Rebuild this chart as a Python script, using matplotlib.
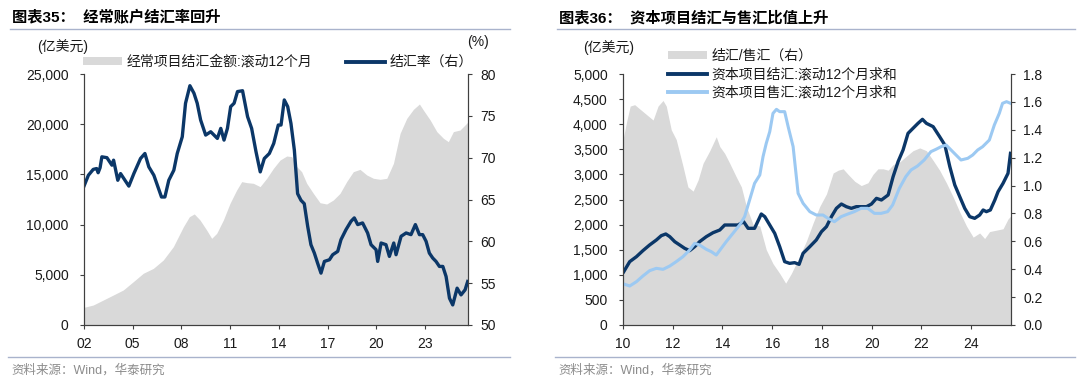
import matplotlib
matplotlib.use("Agg")
import matplotlib.pyplot as plt
from matplotlib.lines import Line2D
from matplotlib.patches import Patch
from matplotlib.ticker import FuncFormatter, MultipleLocator
import numpy as np

plt.rcParams['font.family'] = ['Liberation Sans', 'Noto Sans CJK SC', 'DejaVu Sans']

# ---------------- Data: chart 35 ----------------
ca_amt_x = [2002.0, 2002.57, 2003.19, 2003.81, 2004.42, 2005.04, 2005.65, 2006.27, 2006.88,
            2007.50, 2008.12, 2008.49, 2008.79, 2009.14, 2009.55, 2009.86, 2010.17, 2010.58,
            2010.99, 2011.40, 2011.71, 2012.02, 2012.43, 2012.84, 2013.25, 2013.66, 2014.07,
            2014.48, 2014.79, 2015.10, 2015.40, 2015.71, 2016.12, 2016.53, 2016.94, 2017.35,
            2017.76, 2018.17, 2018.58, 2018.99, 2019.41, 2019.82, 2020.23, 2020.64, 2021.05,
            2021.46, 2021.87, 2022.28, 2022.65, 2022.89, 2023.31, 2023.72, 2024.13, 2024.43,
            2024.74, 2025.15, 2025.56, 2025.64]
ca_amt = [1760, 1990, 2490, 2990, 3490, 4320, 5150, 5640, 6470,
          7800, 9790, 10790, 11060, 10460, 9460, 8630, 9130, 10460,
          12120, 13450, 14280, 14180, 14110, 13780, 14610, 15600, 16430,
          16830, 16770, 15770, 15270, 14110, 13110, 12180, 12050, 12450,
          13110, 14280, 15270, 15500, 14940, 14610, 14510, 14610, 16100,
          19090, 20580, 21480, 22010, 21410, 20420, 19260, 18590, 18260,
          19260, 19420, 20090, 20250]

rate_x = [2002.00, 2002.27, 2002.57, 2002.78, 2002.87, 2002.99, 2003.10, 2003.41, 2003.72,
          2003.82, 2003.93, 2004.08, 2004.25, 2004.76, 2005.07, 2005.48, 2005.75, 2005.99,
          2006.30, 2006.77, 2006.98, 2007.22, 2007.53, 2007.74, 2008.05, 2008.25, 2008.52,
          2008.77, 2008.97, 2009.18, 2009.49, 2009.80, 2010.21, 2010.42, 2010.62, 2010.83,
          2011.03, 2011.24, 2011.45, 2011.76, 2012.07, 2012.32, 2012.59, 2012.85, 2013.10,
          2013.41, 2013.68, 2013.96, 2014.13, 2014.33, 2014.54, 2014.74, 2014.95, 2015.15,
          2015.36, 2015.56, 2015.77, 2015.97, 2016.18, 2016.38, 2016.59, 2016.80, 2017.11,
          2017.31, 2017.62, 2017.82, 2018.13, 2018.44, 2018.64, 2018.85, 2019.15, 2019.46,
          2019.67, 2019.98, 2020.08, 2020.29, 2020.59, 2020.80, 2021.07, 2021.21, 2021.52,
          2021.83, 2022.13, 2022.40, 2022.65, 2022.85, 2023.06, 2023.26, 2023.47, 2023.67,
          2023.88, 2024.09, 2024.29, 2024.50, 2024.70, 2024.97, 2025.21, 2025.46, 2025.62]
rate = [66.6, 67.9, 68.6, 68.7, 68.2, 68.8, 70.1, 70.0, 69.1,
        69.7, 68.7, 67.3, 68.1, 66.6, 68.1, 69.9, 70.5, 68.9,
        67.9, 65.3, 65.3, 67.3, 68.5, 70.5, 72.5, 76.5, 78.6,
        77.7, 76.5, 74.5, 72.7, 73.1, 72.3, 73.5, 72.1, 73.5,
        76.1, 76.5, 77.9, 78.0, 74.9, 73.5, 70.7, 68.3, 69.9,
        70.5, 71.7, 73.9, 73.9, 76.9, 76.1, 74.1, 70.9, 65.7,
        64.9, 64.5, 61.8, 59.6, 58.6, 57.4, 56.2, 57.6, 57.8,
        58.4, 58.8, 60.2, 61.4, 62.4, 62.8, 62.0, 62.2, 61.0,
        59.6, 59.0, 57.6, 59.8, 59.6, 58.2, 59.8, 58.4, 60.6,
        61.0, 60.8, 62.0, 60.8, 60.8, 60.0, 58.6, 58.0, 57.6,
        57.0, 57.0, 55.8, 53.2, 52.4, 54.4, 53.6, 54.2, 55.2]

# ---------------- Data: chart 36 ----------------
ratio_x = [2010.00, 2010.16, 2010.29, 2010.47, 2010.67, 2010.94, 2011.21, 2011.41, 2011.61,
           2011.74, 2011.94, 2012.14, 2012.41, 2012.61, 2012.82, 2013.02, 2013.22, 2013.49,
           2013.75, 2013.89, 2014.09, 2014.29, 2014.56, 2014.76, 2014.96, 2015.23, 2015.50,
           2015.76, 2016.03, 2016.30, 2016.54, 2016.77, 2017.04, 2017.37, 2017.64, 2017.91,
           2018.18, 2018.45, 2018.65, 2018.85, 2019.05, 2019.32, 2019.58, 2019.85, 2020.05,
           2020.25, 2020.46, 2020.66, 2020.86, 2021.13, 2021.39, 2021.66, 2021.93, 2022.20,
           2022.47, 2022.73, 2023.00, 2023.27, 2023.54, 2023.81, 2024.08, 2024.34, 2024.54,
           2024.74, 2025.01, 2025.28, 2025.48, 2025.58]
ratio = [1.33, 1.47, 1.57, 1.58, 1.55, 1.51, 1.47, 1.57, 1.61,
         1.57, 1.40, 1.33, 1.14, 0.99, 0.96, 1.04, 1.16, 1.25,
         1.35, 1.28, 1.23, 1.16, 1.06, 0.99, 0.85, 0.72, 0.71,
         0.54, 0.44, 0.37, 0.30, 0.37, 0.47, 0.60, 0.73, 0.85,
         0.94, 1.09, 1.11, 1.12, 1.08, 1.03, 1.00, 1.02, 1.08,
         1.12, 1.12, 1.11, 1.15, 1.17, 1.21, 1.25, 1.27, 1.25,
         1.18, 1.11, 1.02, 0.92, 0.81, 0.71, 0.63, 0.66, 0.62,
         0.67, 0.68, 0.69, 0.76, 0.78]

settle_x = [2010.03, 2010.27, 2010.54, 2010.80, 2011.07, 2011.34, 2011.54, 2011.72, 2011.88,
            2012.08, 2012.28, 2012.48, 2012.68, 2012.88, 2013.08, 2013.35, 2013.62, 2013.89,
            2014.09, 2014.36, 2014.62, 2014.85, 2015.03, 2015.29, 2015.56, 2015.70, 2015.90,
            2016.10, 2016.30, 2016.50, 2016.70, 2016.90, 2017.08, 2017.24, 2017.51, 2017.77,
            2017.98, 2018.18, 2018.38, 2018.58, 2018.78, 2018.98, 2019.18, 2019.38, 2019.58,
            2019.79, 2019.99, 2020.19, 2020.39, 2020.66, 2020.86, 2021.06, 2021.26, 2021.46,
            2021.66, 2021.86, 2022.04, 2022.20, 2022.47, 2022.73, 2022.94, 2023.14, 2023.34,
            2023.54, 2023.74, 2023.94, 2024.14, 2024.34, 2024.48, 2024.61, 2024.77, 2024.95,
            2025.08, 2025.28, 2025.48, 2025.58]
settle = [1062, 1262, 1361, 1481, 1594, 1693, 1780, 1813, 1760,
          1660, 1594, 1527, 1481, 1560, 1660, 1760, 1839, 1892,
          1992, 1992, 1992, 2058, 1926, 1926, 2211, 2158, 1992,
          1826, 1560, 1262, 1228, 1242, 1208, 1428, 1560, 1693,
          1859, 1959, 2158, 2324, 2410, 2357, 2324, 2357, 2357,
          2357, 2410, 2523, 2490, 2590, 2955, 3254, 3486, 3818,
          3918, 4017, 4097, 4017, 3951, 3752, 3586, 3154, 2789,
          2556, 2324, 2158, 2125, 2191, 2291, 2258, 2291, 2490,
          2656, 2822, 3021, 3420]

sale_x = [2010.03, 2010.27, 2010.54, 2010.80, 2011.07, 2011.34, 2011.61, 2011.88, 2012.14,
          2012.41, 2012.68, 2012.88, 2013.08, 2013.35, 2013.55, 2013.75, 2013.95, 2014.15,
          2014.42, 2014.69, 2014.89, 2015.09, 2015.29, 2015.50, 2015.63, 2015.76, 2015.90,
          2016.03, 2016.17, 2016.30, 2016.50, 2016.64, 2016.84, 2017.04, 2017.24, 2017.51,
          2017.77, 2018.04, 2018.24, 2018.50, 2018.77, 2019.04, 2019.30, 2019.57, 2019.84,
          2020.11, 2020.38, 2020.64, 2020.84, 2021.11, 2021.37, 2021.58, 2021.84, 2022.11,
          2022.38, 2022.58, 2022.79, 2022.99, 2023.19, 2023.39, 2023.59, 2023.86, 2024.06,
          2024.26, 2024.46, 2024.73, 2024.93, 2025.13, 2025.26, 2025.42, 2025.58]
sale = [817, 777, 863, 976, 1082, 1129, 1109, 1175, 1262,
        1361, 1494, 1627, 1594, 1507, 1461, 1394, 1527, 1660,
        1826, 1992, 2158, 2490, 2822, 2988, 3353, 3619, 3851,
        4216, 4296, 4250, 4250, 3951, 3553, 2623, 2424, 2258,
        2191, 2191, 2125, 2058, 2158, 2211, 2258, 2324, 2324,
        2224, 2224, 2258, 2390, 2722, 2955, 3088, 3167, 3287,
        3453, 3499, 3552, 3586, 3486, 3386, 3287, 3320, 3386,
        3486, 3552, 3685, 3984, 4216, 4416, 4449, 4416]

left_ticks_x = [2002, 2005, 2008, 2011, 2014, 2017, 2020, 2023]
left_tick_labels = ["02", "05", "08", "11", "14", "17", "20", "23"]
right_ticks_x = [2010, 2012, 2014, 2016, 2018, 2020, 2022, 2024]
right_tick_labels = ["10", "12", "14", "16", "18", "20", "22", "24"]

# ---------------- Styling ----------------
W, H = 1080, 387
GRAY = "#d9d9d9"
NAVY = "#0b3768"
LIGHT = "#9cc9f2"
SPINE = "#404040"
TXT = "#1a1a1a"
RULE = "#a9b3cc"
FS = 10

fig = plt.figure(figsize=(W / 100, H / 100), dpi=100)


def fx(px):
    return px / W


def fy(py):
    return 1 - py / H


def style_axes(ax, ax2):
    for a in (ax, ax2):
        a.spines['top'].set_visible(False)
        for s in ('left', 'right', 'bottom'):
            a.spines[s].set_color(SPINE)
            a.spines[s].set_linewidth(0.8)
    ax.tick_params(axis='y', direction='out', length=3, width=0.8, color=SPINE,
                   labelsize=FS, labelcolor=TXT, pad=8)
    ax.tick_params(axis='x', direction='out', length=3, width=0.8, color=SPINE,
                   labelsize=FS, labelcolor=TXT, pad=6)
    ax2.tick_params(axis='y', direction='out', length=3, width=0.8, color=SPINE,
                    labelsize=FS, labelcolor=TXT, pad=6)


def panel_frame(x0, x1, title):
    fig.text(fx(x0 + 2), fy(18), title, fontsize=11, fontweight='bold', color='black',
             va='center', ha='left')
    fig.add_artist(Line2D([fx(x0), fx(x1)], [fy(29), fy(29)], color=RULE, lw=1.0))
    fig.add_artist(Line2D([fx(x0 - 2), fx(x1)], [fy(357), fy(357)], color=RULE, lw=1.0))
    fig.text(fx(x0 + 1), fy(370), "资料来源：Wind，华泰研究", fontsize=9, color="#8c8c8c",
             va='center', ha='left')


# ---------------- Chart 35 ----------------
axL = fig.add_axes([fx(84), fy(325), fx(468 - 84), fy(74) - fy(325)])
axL2 = axL.twinx()
axL.fill_between(ca_amt_x, ca_amt, 0, color=GRAY, lw=0)
axL2.plot(rate_x, rate, color=NAVY, lw=2.4, solid_joinstyle='round')
axL.set_xlim(2002.0, 2025.64)
axL.set_ylim(0, 25000)
axL2.set_ylim(50, 80)
axL.yaxis.set_major_locator(MultipleLocator(5000))
axL.yaxis.set_major_formatter(FuncFormatter(lambda v, p: f"{int(v):,}"))
axL2.yaxis.set_major_locator(MultipleLocator(5))
axL.set_xticks(left_ticks_x)
axL.set_xticklabels(left_tick_labels)
style_axes(axL, axL2)

fig.text(fx(37), fy(47), "(亿美元)", fontsize=FS, color=TXT, va='center', ha='left')
fig.text(fx(478), fy(42), "(%)", fontsize=FS, color=TXT, va='center', ha='center')

legL = fig.legend(handles=[Patch(facecolor=GRAY, edgecolor='none', label="经常项目结汇金额:滚动12个月"),
                           Line2D([], [], color=NAVY, lw=2.8, label="结汇率（右）")],
                  loc='center left', bbox_to_anchor=(fx(83), fy(62)), ncol=2, frameon=False,
                  fontsize=FS, handlelength=2.8, handleheight=0.45, handletextpad=0.35,
                  columnspacing=2.4, borderpad=0, borderaxespad=0)
for t in legL.get_texts():
    t.set_color(TXT)

panel_frame(10, 510, "图表35：  经常账户结汇率回升")

# ---------------- Chart 36 ----------------
axR = fig.add_axes([fx(623), fy(325), fx(1011 - 623), fy(74) - fy(325)])
axR2 = axR.twinx()
axR2.fill_between(ratio_x, ratio, 0, color=GRAY, lw=0)
axR.plot(settle_x, settle, color=NAVY, lw=2.4, solid_joinstyle='round')
axR.plot(sale_x, sale, color=LIGHT, lw=2.2, solid_joinstyle='round')
axR.set_zorder(axR2.get_zorder() + 1)
axR.patch.set_visible(False)
axR.set_xlim(2010.0, 2025.6)
axR.set_ylim(0, 5000)
axR2.set_ylim(0, 1.8)
axR.yaxis.set_major_locator(MultipleLocator(500))
axR.yaxis.set_major_formatter(FuncFormatter(lambda v, p: f"{int(v):,}"))
axR2.yaxis.set_major_locator(MultipleLocator(0.2))
axR2.yaxis.set_major_formatter(FuncFormatter(lambda v, p: f"{v:.1f}"))
axR.set_xticks(right_ticks_x)
axR.set_xticklabels(right_tick_labels)
style_axes(axR, axR2)

fig.text(fx(583), fy(48), "(亿美元)", fontsize=FS, color=TXT, va='center', ha='left')

legR = fig.legend(handles=[Patch(facecolor=GRAY, edgecolor='none', label="结汇/售汇（右）"),
                           Line2D([], [], color=NAVY, lw=2.8, label="资本项目结汇:滚动12个月求和"),
                           Line2D([], [], color=LIGHT, lw=2.8, label="资本项目售汇:滚动12个月求和")],
                  loc='upper left', bbox_to_anchor=(fx(668), fy(49)), ncol=1, frameon=False,
                  fontsize=FS, handlelength=2.8, handleheight=0.45, handletextpad=0.35,
                  labelspacing=0.3, borderpad=0, borderaxespad=0)
for t in legR.get_texts():
    t.set_color(TXT)

panel_frame(557, 1075, "图表36：  资本项目结汇与售汇比值上升")

fig.savefig("out.png", dpi=100)
